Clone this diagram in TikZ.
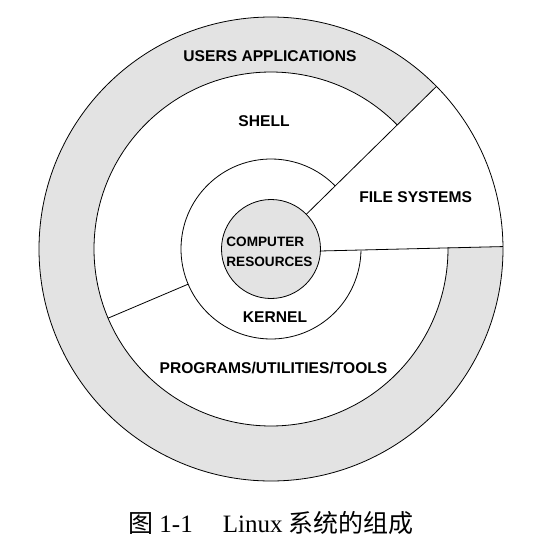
\documentclass[tikz,border=0pt]{standalone}
\usepackage{fontspec}
\setmainfont{Liberation Serif}
\setsansfont{Liberation Sans}
\newfontfamily\cjk{Noto Sans CJK SC}
\definecolor{ringgray}{HTML}{E3E3E3}
\tikzset{
  layer/.style={font=\sffamily\bfseries\fontsize{11.7}{13}\selectfont, inner sep=0pt},
  ring/.style={draw=black, line width=0.6pt}
}
\begin{document}
\begin{tikzpicture}[x=0.75pt,y=0.75pt]
\useasboundingbox (-271,249) rectangle (283,-309);
% users applications band
\fill[ringgray] (44.5:232) arc[start angle=44.5, end angle=360.6, radius=232]
  -- (360.6:177) arc[start angle=360.6, end angle=44.5, radius=177] -- cycle;
\draw[ring] (0,0) circle[radius=232];
\draw[ring] (44.5:177) arc[start angle=44.5, end angle=360.6, radius=177];

% kernel ring and core
\draw[ring] (44.5:90) arc[start angle=44.5, end angle=359, radius=90];
\filldraw[ring, fill=ringgray] (0,0) circle[radius=49.5];

% file systems wedge and shell/programs split
\coordinate (fsa) at (44.5:49.5);
\coordinate (fsb) at (44.5:232);
\coordinate (fsc) at (-2.3:49.5);
\coordinate (fsd) at (0.6:232);
\coordinate (spa) at (203:90);
\coordinate (spb) at (203:177);
\draw[ring] (fsa) -- (fsb);
\draw[ring] (fsc) -- (fsd);
\draw[ring] (spa) -- (spb);

\node[layer] (users) at (-1,192.5) {USERS APPLICATIONS};
\node[layer] (shell) at (-7,128) {SHELL};
\node[layer] (files) at (144.6,52) {FILE SYSTEMS};
\node[layer, align=left, font=\sffamily\bfseries\fontsize{10.2}{14.6}\selectfont]
  (core) at (-1.5,-3) {COMPUTER\\RESOURCES};
\node[layer] (kernel) at (4,-68) {KERNEL};
\node[layer] (progs) at (2.5,-119.5) {PROGRAMS/UTILITIES/TOOLS};

\node[font=\fontsize{18.75}{20}\selectfont, inner sep=0pt] (caption) at (0,-274)
  {{\cjk 图} 1-1\hspace{1.2em}Linux {\cjk 系统的组成}};
\end{tikzpicture}
\end{document}
